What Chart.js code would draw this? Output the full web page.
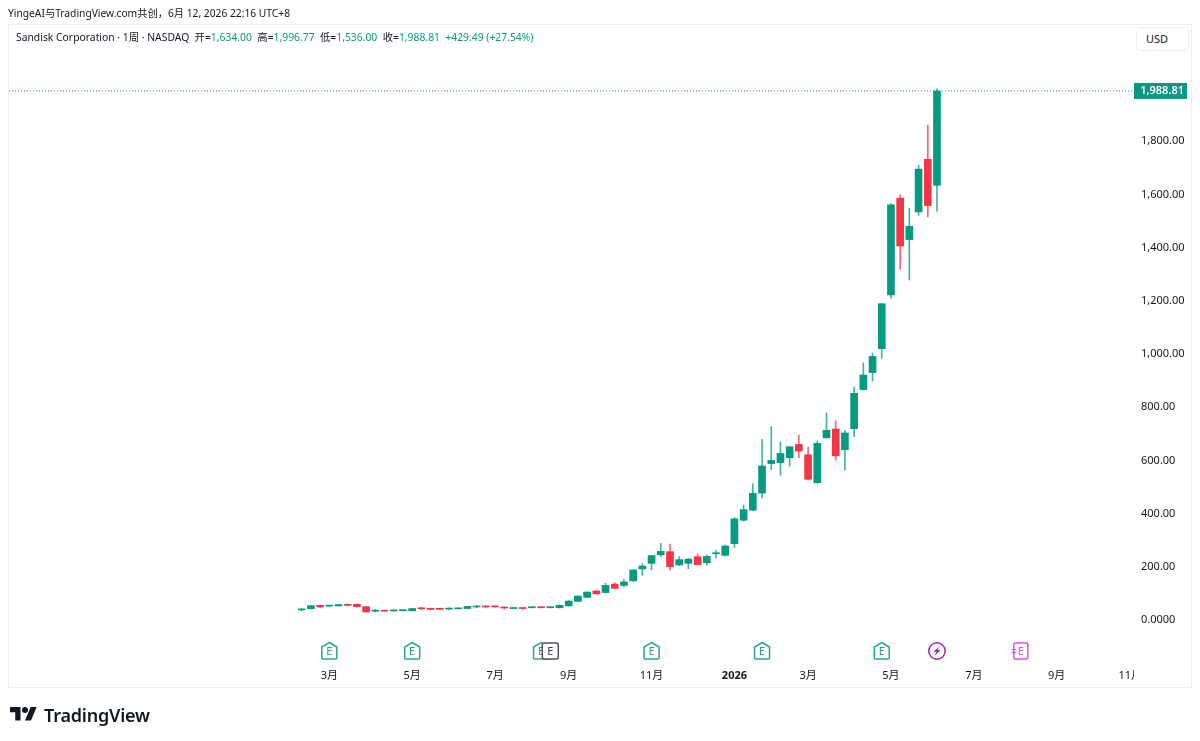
<!DOCTYPE html>
<html lang="zh">
<head>
<meta charset="utf-8">
<title>Sandisk Corporation</title>
<script src="https://cdn.jsdelivr.net/npm/chart.js@4"></script>
<style>
    html, body { margin: 0; padding: 0; background: #fff; }
    body { width: 1200px; height: 741px; overflow: hidden; position: relative;
           font-family: "Noto Sans", "Noto Sans CJK SC", sans-serif; color: #131722; }
    canvas { position: absolute; left: 0; top: 0; }
    .frame { position: absolute; left: 8px; top: 24px; width: 1182px; height: 662px; border: 1px solid #eceef2; }
    .titulo { position: absolute; left: 8px; top: 5px; font-size: 10.25px; line-height: 16px; white-space: nowrap; }
    .leyenda { position: absolute; left: 16px; top: 29px; font-size: 10.35px; line-height: 16px; white-space: pre; }
    .leyenda b { font-weight: normal; color: #089981; }
    .usd { position: absolute; left: 1136px; top: 27px; width: 42px; height: 22px; padding-left: 9px; border: 1px solid #eceef2;
           border-radius: 4px; font-size: 11px; line-height: 22px; background: #fff; }
    .logo { position: absolute; left: 10px; top: 704px; width: 27px; height: 21px; }
    .marca { position: absolute; left: 44px; top: 702px; font-size: 18px; line-height: 26px; font-weight: 600; letter-spacing: -0.2px; }
</style>
</head>
<body>
<canvas id="grafica" width="1200" height="741"></canvas>
<div class="frame"></div>
<div class="titulo">YingeAI与TradingView.com共创，6月 12, 2026 22:16 UTC+8</div>
<div class="leyenda">Sandisk Corporation · 1周 · NASDAQ  开=<b>1,634.00</b>  高=<b>1,996.77</b>  低=<b>1,536.00</b>  收=<b>1,988.81</b>  <b>+429.49 (+27.54%)</b></div>
<div class="usd">USD</div>
<svg class="logo" viewBox="0 0 36 28"><path fill="#131722" d="M14 22H7V11H0V4h14v18zM28 22h-8l7.5-18h8L28 22z"/><circle fill="#131722" cx="20" cy="8" r="4"/></svg>
<div class="marca">TradingView</div>
<script>
// velas semanales
const opens = [38, 42.5, 55, 52, 53, 58, 59, 50, 33, 36, 34, 35, 35, 45, 43, 43, 41, 42, 43, 49, 52, 52, 48, 43, 46, 46, 49, 46, 46, 53,
    70, 85, 109, 103, 135, 130, 147, 192, 213, 245, 257, 207, 213, 238, 215, 249, 243, 287, 375, 413, 477, 588, 591, 610, 660, 621, 516, 685, 718, 640,
    719, 866, 930, 1020, 1222, 1586, 1430, 1534, 1732, 1634];
const closes = [39, 54, 49, 55, 58, 55, 50, 30, 37, 33, 36, 38, 43, 42, 40, 40, 44, 44, 51, 52, 49, 49, 45, 46, 43, 49, 46, 50, 55, 71,
    90, 105, 98, 130, 119, 143, 188, 203, 242, 258, 200, 227, 229, 208, 239, 251, 278, 380, 415, 476, 579, 600, 626, 651, 635, 529, 664, 713, 617, 703,
    852, 921, 991, 1189, 1561, 1406, 1480, 1695, 1558, 1988.81];
const highs = [43, 55, 56, 56, 59, 61, 61, 50, 40, 38, 37, 40, 44, 48, 45, 44, 46, 45, 52, 54, 53, 53, 50, 47, 47, 50, 50, 51, 57, 73,
    91, 106, 112, 138, 140, 153, 189, 212, 243, 288, 285, 238, 232, 248, 244, 262, 282, 385, 432, 512, 679, 728, 669, 653, 695, 650, 673, 779, 749, 713,
    876, 967, 1004, 1189, 1565, 1598, 1548, 1709, 1860, 1996.77];
const lows = [34, 42, 46, 51, 52, 53, 48, 30, 30, 32, 33, 34, 34, 38, 38, 39, 38, 41, 42, 46, 47, 48, 41, 42, 41, 45, 45, 45, 45, 52,
    69, 84, 97, 102, 118, 125, 146, 168, 188, 238, 187, 204, 193, 207, 206, 232, 240, 272, 372, 411, 459, 565, 544, 578, 610, 527, 514, 683, 601, 563,
    689, 864, 898, 984, 1210, 1318, 1278, 1521, 1515, 1536];

const xTickWeeks = [3, 12, 21, 29, 38, 47, 55, 64, 73, 82, 90];
const xTickLabels = ["3月", "5月", "7月", "9月", "11月", "2026", "3月", "5月", "7月", "9月", "11月"];
const yTicks = [0, 200, 400, 600, 800, 1000, 1200, 1400, 1600, 1800];

// semanas con marcadores debajo de las velas
const earningsWeeks = [3, 12, 26, 38, 50, 63];
const reportWeek = 27;
const splitWeek = 69;
const nextEarningsWeek = 78;

const verde = "#089981";
const rojo = "#F23645";
const ultimo = closes[closes.length - 1];
const xMin = -31.79;
const xMax = 90.29;

const colores = opens.map((o, i) => (closes[i] >= o ? verde : rojo));
const coloresMecha = opens.map((o, i) => (closes[i] >= o ? "rgba(8,153,129,0.75)" : "rgba(242,54,69,0.75)"));

function casita(ctx, x, y) {
    ctx.beginPath();
    ctx.moveTo(x, y - 8.5);
    ctx.lineTo(x + 7.5, y - 4);
    ctx.lineTo(x + 7.5, y + 7);
    ctx.quadraticCurveTo(x + 7.5, y + 8, x + 6.5, y + 8);
    ctx.lineTo(x - 6.5, y + 8);
    ctx.quadraticCurveTo(x - 7.5, y + 8, x - 7.5, y + 7);
    ctx.lineTo(x - 7.5, y - 4);
    ctx.closePath();
}

function letraE(ctx, x, y, color) {
    ctx.fillStyle = color;
    ctx.font = "11px 'Noto Sans'";
    ctx.textAlign = "center";
    ctx.textBaseline = "middle";
    ctx.fillText("E", x, y + 1);
}

const marcadores = {
    id: "marcadores",
    afterDraw(chart) {
        const ctx = chart.ctx;
        const xs = chart.scales.x;
        const ys = chart.scales.y;
        const area = chart.chartArea;
        const y = area.bottom - 15;
        ctx.save();

        // el ultimo rotulo del eje queda cortado por la escala de precios
        ctx.fillStyle = "#fff";
        ctx.fillRect(area.right + 1, area.bottom, 56, 20);

        ctx.lineWidth = 1.5;
        earningsWeeks.forEach((w) => {
            const x = xs.getPixelForValue(w);
            casita(ctx, x, y);
            ctx.fillStyle = "#fff";
            ctx.fill();
            ctx.strokeStyle = "#26a69a";
            ctx.stroke();
            letraE(ctx, x, y, "#1f9e8b");
        });

        let x = xs.getPixelForValue(reportWeek);
        ctx.beginPath();
        ctx.roundRect(x - 8, y - 8, 16, 16, 2);
        ctx.fillStyle = "#fff";
        ctx.fill();
        ctx.strokeStyle = "#50535e";
        ctx.stroke();
        letraE(ctx, x, y, "#363a45");

        x = xs.getPixelForValue(splitWeek);
        ctx.beginPath();
        ctx.arc(x, y, 8.2, 0, Math.PI * 2);
        ctx.strokeStyle = "#9c27b0";
        ctx.stroke();
        ctx.beginPath();
        ctx.moveTo(x + 2.5, y - 5);
        ctx.lineTo(x - 3.5, y + 1);
        ctx.lineTo(x - 0.5, y + 1);
        ctx.lineTo(x - 2.5, y + 5);
        ctx.lineTo(x + 3.5, y - 1);
        ctx.lineTo(x + 0.5, y - 1);
        ctx.closePath();
        ctx.fillStyle = "#9c27b0";
        ctx.fill();

        x = xs.getPixelForValue(nextEarningsWeek);
        ctx.beginPath();
        ctx.roundRect(x - 6, y - 8, 14, 16, 1.5);
        ctx.strokeStyle = "#e04ff0";
        ctx.stroke();
        ctx.beginPath();
        ctx.moveTo(x - 8, y - 1.5);
        ctx.lineTo(x - 3.5, y - 1.5);
        ctx.moveTo(x - 8, y + 1.5);
        ctx.lineTo(x - 3.5, y + 1.5);
        ctx.lineWidth = 1;
        ctx.stroke();
        letraE(ctx, x + 1, y, "#e04ff0");

        // etiqueta del ultimo precio
        const yp = ys.getPixelForValue(ultimo);
        ctx.fillStyle = verde;
        ctx.fillRect(area.right + 1, yp - 8, 53, 16);
        ctx.fillStyle = "#fff";
        ctx.font = "600 11px 'Noto Sans'";
        ctx.textAlign = "right";
        ctx.textBaseline = "middle";
        ctx.fillText("1,988.81", area.right + 51, yp);
        ctx.restore();
    },
};

new Chart(document.getElementById("grafica"), {
    data: {
        datasets: [
            {
                type: "bar",
                label: "Cuerpo",
                data: opens.map((o, i) => ({ x: i, y: [o, closes[i]] })),
                backgroundColor: colores,
                barThickness: 7,
                minBarLength: 1,
                grouped: false,
            },
            {
                type: "bar",
                label: "Mecha",
                data: lows.map((l, i) => ({ x: i, y: [l, highs[i]] })),
                backgroundColor: coloresMecha,
                barThickness: 1,
                grouped: false,
            },
            {
                type: "line",
                label: "Ultimo",
                data: [{ x: xMin, y: ultimo }, { x: xMax, y: ultimo }],
                borderColor: verde,
                borderWidth: 1,
                borderDash: [1, 2],
                pointRadius: 0,
            },
        ],
    },
    options: {
        responsive: false,
        animation: false,
        layout: { padding: { left: 9, top: 26, right: 9, bottom: 53 } },
        plugins: { legend: { display: false }, tooltip: { enabled: false } },
        scales: {
            x: {
                type: "linear",
                offset: false,
                min: xMin,
                max: xMax,
                grid: { display: false, drawTicks: false },
                border: { display: false },
                afterBuildTicks: (axis) => { axis.ticks = xTickWeeks.map((w) => ({ value: w })); },
                afterFit: (axis) => { axis.height = 22; },
                ticks: {
                    autoSkip: false,
                    maxRotation: 0,
                    padding: 3,
                    color: "#131722",
                    callback: (value, index) => xTickLabels[index],
                    font: (c) => ({
                        family: "'Noto Sans', 'Noto Sans CJK SC'",
                        size: 11,
                        weight: xTickLabels[c.index] === "2026" ? "bold" : "normal",
                    }),
                },
            },
            y: {
                position: "right",
                min: -173,
                max: 2233,
                grid: { display: false, drawTicks: false },
                border: { display: false },
                afterBuildTicks: (axis) => { axis.ticks = yTicks.map((v) => ({ value: v })); },
                afterFit: (axis) => { axis.width = 58; },
                ticks: {
                    padding: 8,
                    color: "#131722",
                    font: { family: "'Noto Sans'", size: 11 },
                    callback: (value) => (value === 0 ? "0.0000" : value.toLocaleString("en-US", { minimumFractionDigits: 2 })),
                },
            },
        },
    },
    plugins: [marcadores],
});
</script>
</body>
</html>
